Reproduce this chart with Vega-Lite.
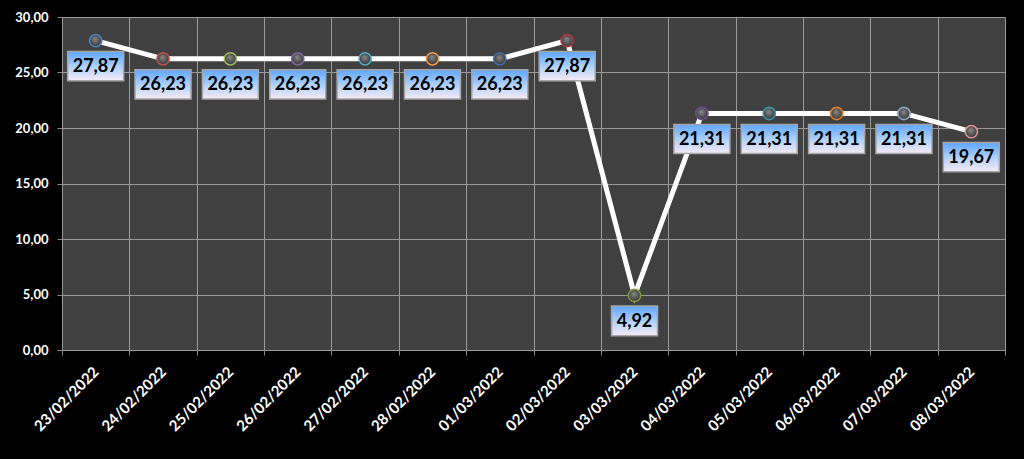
{
  "$schema": "https://vega.github.io/schema/vega-lite/v6.json",
  "width": 943,
  "height": 333,
  "autosize": {"type": "none"},
  "padding": {"left": 62, "top": 17, "right": 19, "bottom": 109},
  "background": "#000000",
  "config": {
    "locale": {"number": {"decimal": ",", "thousands": ".", "grouping": [3], "currency": ["", " €"]}},
    "view": {"fill": "#404040", "stroke": null},
    "font": "Lato"
  },
  "data": {
    "values": [
      {"date": "23/02/2022", "value": 27.87},
      {"date": "24/02/2022", "value": 26.23},
      {"date": "25/02/2022", "value": 26.23},
      {"date": "26/02/2022", "value": 26.23},
      {"date": "27/02/2022", "value": 26.23},
      {"date": "28/02/2022", "value": 26.23},
      {"date": "01/03/2022", "value": 26.23},
      {"date": "02/03/2022", "value": 27.87},
      {"date": "03/03/2022", "value": 4.92},
      {"date": "04/03/2022", "value": 21.31},
      {"date": "05/03/2022", "value": 21.31},
      {"date": "06/03/2022", "value": 21.31},
      {"date": "07/03/2022", "value": 21.31},
      {"date": "08/03/2022", "value": 19.67}
    ]
  },
  "encoding": {
    "x": {
      "field": "date", "type": "ordinal", "sort": null,
      "scale": {"type": "band", "paddingInner": 0, "paddingOuter": 0},
      "axis": {
        "title": null, "tickBand": "extent", "grid": true, "gridColor": "#9a9a9a", "gridWidth": 1,
        "domain": false, "ticks": true, "tickColor": "#8a8a8a", "tickSize": 5,
        "labelAngle": -45, "labelColor": "#ffffff", "labelFont": "Lato", "labelFontWeight": "bold",
        "labelFontSize": 15, "labelPadding": 14, "labelAlign": "right", "labelBaseline": "middle"
      }
    },
    "y": {
      "field": "value", "type": "quantitative",
      "scale": {"domain": [0, 30], "nice": false},
      "axis": {
        "title": null, "values": [0, 5, 10, 15, 20, 25, 30], "format": ".2f",
        "grid": true, "gridColor": "#9a9a9a", "gridWidth": 1,
        "domain": false, "tickColor": "#8a8a8a", "tickSize": 5,
        "labelColor": "#ffffff", "labelFont": "Lato", "labelFontWeight": "bold",
        "labelFontSize": 13, "labelPadding": 9
      }
    }
  },
  "layer": [
    {
      "mark": {"type": "line", "color": "#ffffff", "strokeWidth": 5, "strokeCap": "butt"}
    },
    {
      "mark": {
        "type": "point", "filled": true, "size": 150, "strokeWidth": 1.6, "opacity": 1,
        "fill": {"gradient": "radial", "x1": 0.45, "y1": 0.35, "r1": 0, "x2": 0.5, "y2": 0.5, "r2": 0.6,
          "stops": [{"offset": 0, "color": "#8a8a8a"}, {"offset": 1, "color": "#2a2a2a"}]},
        "fillOpacity": 1
      },
      "encoding": {
        "stroke": {
          "field": "date", "type": "nominal", "sort": null, "legend": null,
          "scale": {"range": ["#4F81BD", "#C0504D", "#9BBB59", "#8064A2", "#4BACC6", "#F79646", "#3F6FA8", "#B03A37", "#7E9A3F", "#6A4F8C", "#3796AF", "#E07F2A", "#8EA6C6", "#D99694"]}
        }
      }
    },
    {
      "mark": {
        "type": "point", "filled": true, "yOffset": 25.5, "opacity": 1,
        "stroke": "#a6a6a6", "strokeWidth": 1.5,
        "fill": {"gradient": "linear", "x1": 0, "y1": 0, "x2": 0, "y2": 1,
          "stops": [{"offset": 0, "color": "#5ea6ff"}, {"offset": 0.55, "color": "#b4d3fb"}, {"offset": 1, "color": "#f6eaf6"}]}
      },
      "encoding": {
        "shape": {
          "condition": {"test": "datum.value < 10", "value": "M-1,-0.65L1,-0.65L1,0.65L-1,0.65Z"},
          "value": "M-1,-0.52L1,-0.52L1,0.52L-1,0.52Z"
        },
        "size": {"condition": {"test": "datum.value < 10", "value": 2116}, "value": 3136}
      }
    },
    {
      "mark": {"type": "text", "yOffset": 26.5, "font": "Lato", "fontWeight": "bold", "fontSize": 18, "color": "#000000", "baseline": "middle"},
      "encoding": {
        "text": {"field": "value", "type": "quantitative", "format": ".2f"}
      }
    }
  ]
}
